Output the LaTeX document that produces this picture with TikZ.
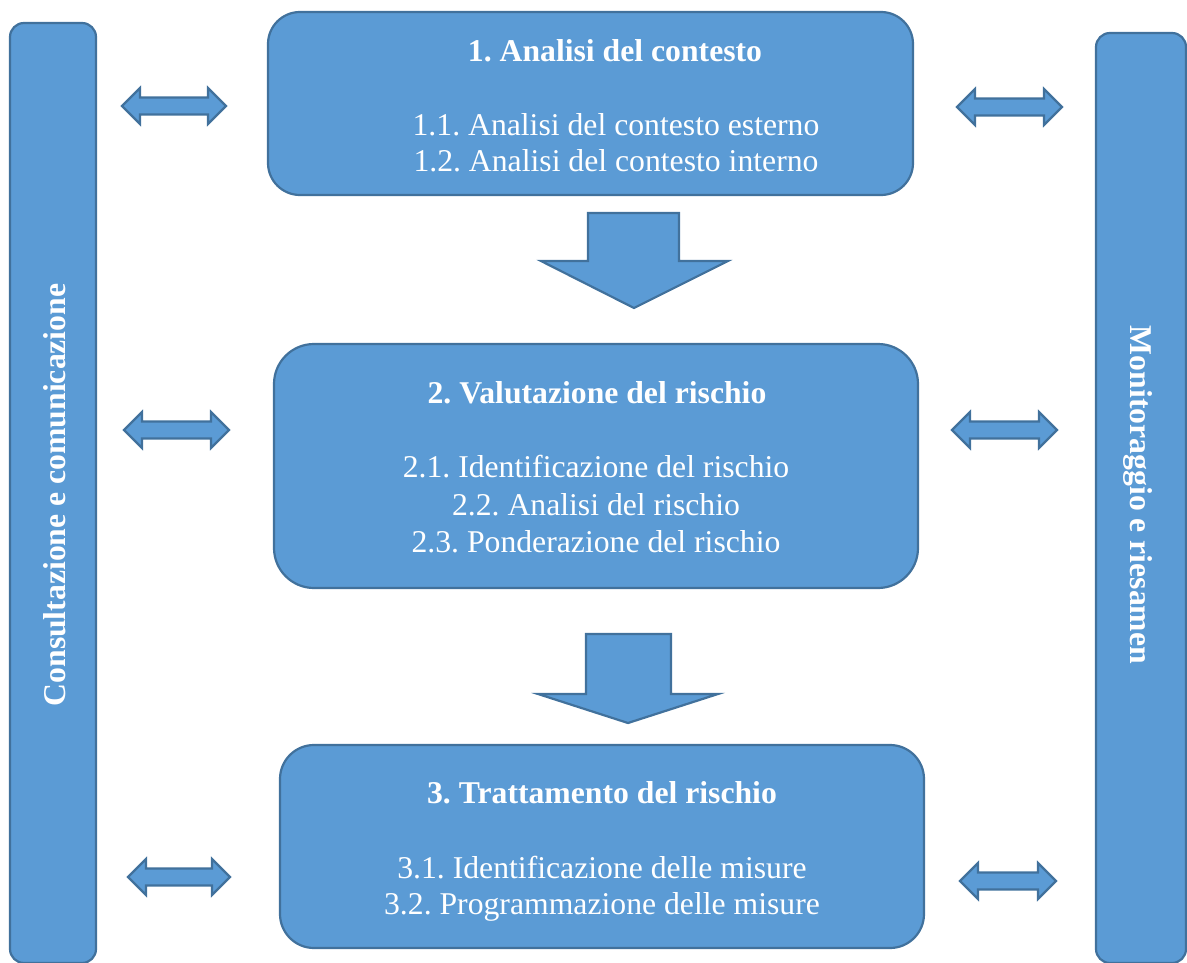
\documentclass[tikz,border=0pt]{standalone}
\usepackage{fontspec}
\setmainfont{Liberation Serif}
\frenchspacing
\definecolor{boxfill}{HTML}{5B9BD5}
\definecolor{boxline}{HTML}{41719C}
\tikzset{
  shapestyle/.style={fill=boxfill, draw=boxline, line width=2.2pt, line join=miter},
  boxstyle/.style={shapestyle, rectangle, rounded corners=#1, inner sep=0pt},
  lbl/.style={text=white, anchor=base, inner sep=0pt, font=\fontsize{31.7}{36}\selectfont},
  title/.style={lbl, font=\fontsize{31.7}{36}\selectfont\bfseries},
}
\newcommand\dblarr[3]{%
  \draw[shapestyle] (#1,#3) -- ++(18,-18) -- ++(0,9.5) -- ({#2-18},{#3-8.5}) -- ++(0,-9.5)
    -- (#2,#3) -- ({#2-18},{#3+18}) -- ++(0,-9.5) -- ({#1+18},{#3+8.5}) -- ++(0,9.5) -- cycle;}
\begin{document}
\begin{tikzpicture}[x=1pt,y=-1pt]
\useasboundingbox (0,0) rectangle (1187,963);
% side bars
\node[boxstyle=14pt, minimum width=86pt, minimum height=940pt] (lbar) at (53,493) {};
\node[boxstyle=14pt, minimum width=90pt, minimum height=930pt] (rbar) at (1141,498) {};
\node[title, rotate=90] (ltext) at (65,495) {Consultazione e comunicazione};
\node[title, rotate=-90] (rtext) at (1130,495) {Monitoraggio e riesamen};
% main boxes
\node[boxstyle=32pt, minimum width=645pt, minimum height=183pt] (b1) at (590.5,103.5) {};
\node[boxstyle=40pt, minimum width=644pt, minimum height=244pt] (b2) at (596,466) {};
\node[boxstyle=34pt, minimum width=644pt, minimum height=203pt] (b3) at (602,846.5) {};
% texts box 1
\node[title] (t1) at (615,62) {1. Analisi del contesto};
\node[lbl] (t11) at (616,136) {1.1. Analisi del contesto esterno};
\node[lbl] (t12) at (616,172) {1.2. Analisi del contesto interno};
% texts box 2
\node[title] (t2) at (597,403) {2. Valutazione del rischio};
\node[lbl] (t21) at (596,477) {2.1. Identificazione del rischio};
\node[lbl] (t22) at (596,515) {2.2. Analisi del rischio};
\node[lbl] (t23) at (596,552) {2.3. Ponderazione del rischio};
% texts box 3
\node[title] (t3) at (602,803) {3. Trattamento del rischio};
\node[lbl] (t31) at (602,878) {3.1. Identificazione delle misure};
\node[lbl] (t32) at (602,914) {3.2. Programmazione delle misure};
% down arrows
\draw[shapestyle] (588,213) -- (679,213) -- (679,261) -- (728,261) -- (634,308) -- (541,261) -- (588,261) -- cycle;
\draw[shapestyle] (586,634) -- (671,634) -- (671,694) -- (718,694) -- (628,723) -- (538,694) -- (586,694) -- cycle;
% double arrows
\dblarr{122}{226}{106}
\dblarr{957}{1062}{107}
\dblarr{124}{229}{430}
\dblarr{952}{1057}{430}
\dblarr{128}{230}{877}
\dblarr{960}{1056}{881}
\end{tikzpicture}
\end{document}
